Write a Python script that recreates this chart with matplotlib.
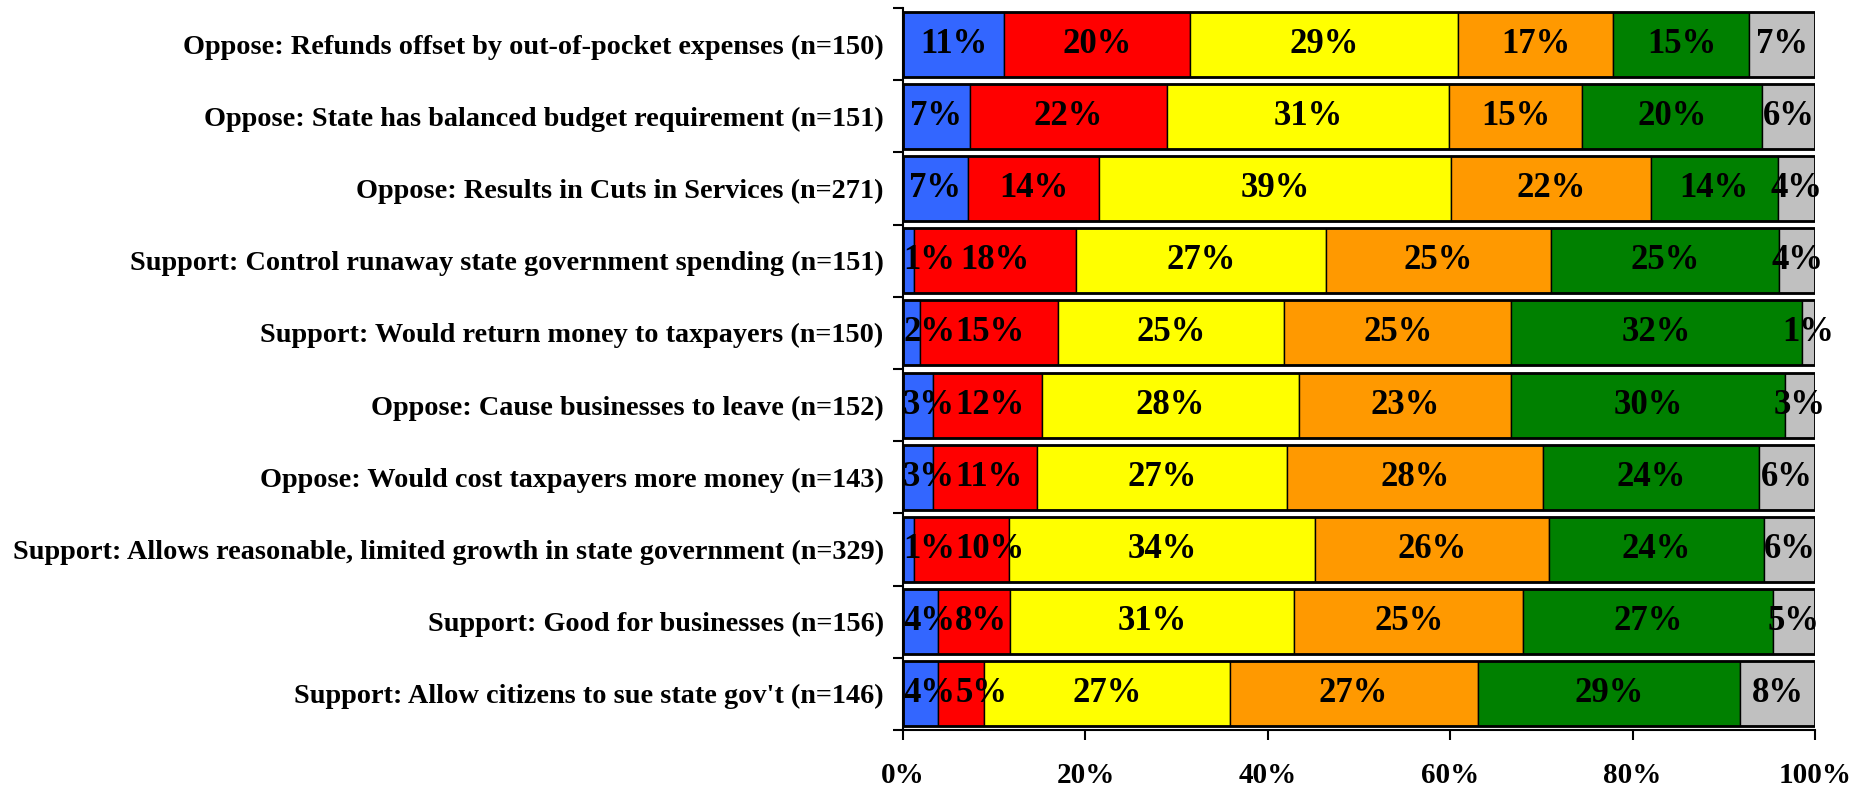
import numpy as np
import matplotlib.pyplot as plt

plt.switch_backend('Agg')
plt.rcParams['font.family'] = ['Liberation Serif', 'DejaVu Serif']
plt.rcParams['font.weight'] = 'bold'

# Categories, top to bottom
categories = [
    "Oppose: Refunds offset by out-of-pocket expenses (n=150)",
    "Oppose: State has balanced budget requirement (n=151)",
    "Oppose: Results in Cuts in Services (n=271)",
    "Support: Control runaway state government spending (n=151)",
    "Support: Would return money to taxpayers (n=150)",
    "Oppose: Cause businesses to leave (n=152)",
    "Oppose: Would cost taxpayers more money (n=143)",
    "Support: Allows reasonable, limited growth in state government (n=329)",
    "Support: Good for businesses (n=156)",
    "Support: Allow citizens to sue state gov't (n=146)",
]

# Segment shares (%), left to right
blue_vals   = [11.1,  7.3,  7.1,  1.2,  1.9,  3.3,  3.3,  1.2,  3.8,  3.8]
red_vals    = [20.4, 21.6, 14.4, 17.8, 15.1, 11.9, 11.4, 10.4,  7.9,  5.1]
yellow_vals = [29.4, 31.0, 38.6, 27.4, 24.8, 28.2, 27.4, 33.6, 31.2, 26.9]
orange_vals = [17.0, 14.6, 21.9, 24.6, 24.9, 23.3, 28.1, 25.6, 25.1, 27.2]
green_vals  = [14.9, 19.7, 13.9, 25.1, 31.9, 30.0, 23.7, 23.6, 27.4, 28.8]
gray_vals   = [ 7.2,  5.8,  4.1,  3.9,  1.4,  3.3,  6.1,  5.6,  4.6,  8.2]

x_ticks = [0, 20, 40, 60, 80, 100]

series = [blue_vals, red_vals, yellow_vals, orange_vals, green_vals, gray_vals]
colors = ["#3366FF", "#FF0000", "#FFFF00", "#FF9900", "#008000", "#C0C0C0"]

fig = plt.figure(figsize=(18.74, 7.91), dpi=100)
ax = fig.add_axes([0.4819, 0.0771, 0.9685 - 0.4819, 0.990 - 0.0771])

y = np.arange(len(categories))
left = np.zeros(len(categories))
for vals, col in zip(series, colors):
    ax.barh(y, vals, left=left, height=0.9, color=col, edgecolor="black", linewidth=1.0)
    left = left + np.array(vals)

# heavier outline round each whole bar
ax.barh(y, left, height=0.9, fill=False, edgecolor="black", linewidth=2.0)

ax.set_xlim(0, 100)
ax.set_ylim(len(categories) - 0.5, -0.5)

# value labels, shifted right when they would collide
fig.canvas.draw()
renderer = fig.canvas.get_renderer()
px_per_unit = ax.bbox.width / 100.0
for i in range(len(categories)):
    start = 0.0
    prev_right = -1e9
    for vals in series:
        v = vals[i]
        t = ax.text(0, i, f"{round(v):d}%", ha="center", va="center",
                    fontsize=25, fontweight="bold", color="black")
        w = t.get_window_extent(renderer).width / px_per_unit
        cx = start + v / 2
        cx = max(cx, w / 2, prev_right + w / 2)
        t.set_x(cx)
        prev_right = cx + w / 2
        start += v

ax.set_yticks(y)
ax.set_yticklabels(categories, fontsize=20.3, fontweight="bold")
ax.set_yticks(np.arange(len(categories) + 1) - 0.5, minor=True)
ax.tick_params(axis="y", which="major", length=0, pad=14)
ax.tick_params(axis="y", which="minor", length=7, width=1.5, direction="out")

ax.set_xticks(x_ticks)
ax.set_xticklabels([f"{v}%" for v in x_ticks], fontsize=21, fontweight="bold")
ax.tick_params(axis="x", length=7, width=1.5, direction="out", pad=16)

for side in ["top", "right"]:
    ax.spines[side].set_visible(False)
for side in ["left", "bottom"]:
    ax.spines[side].set_linewidth(1.5)

fig.savefig("out.png", dpi=100, facecolor="white")
